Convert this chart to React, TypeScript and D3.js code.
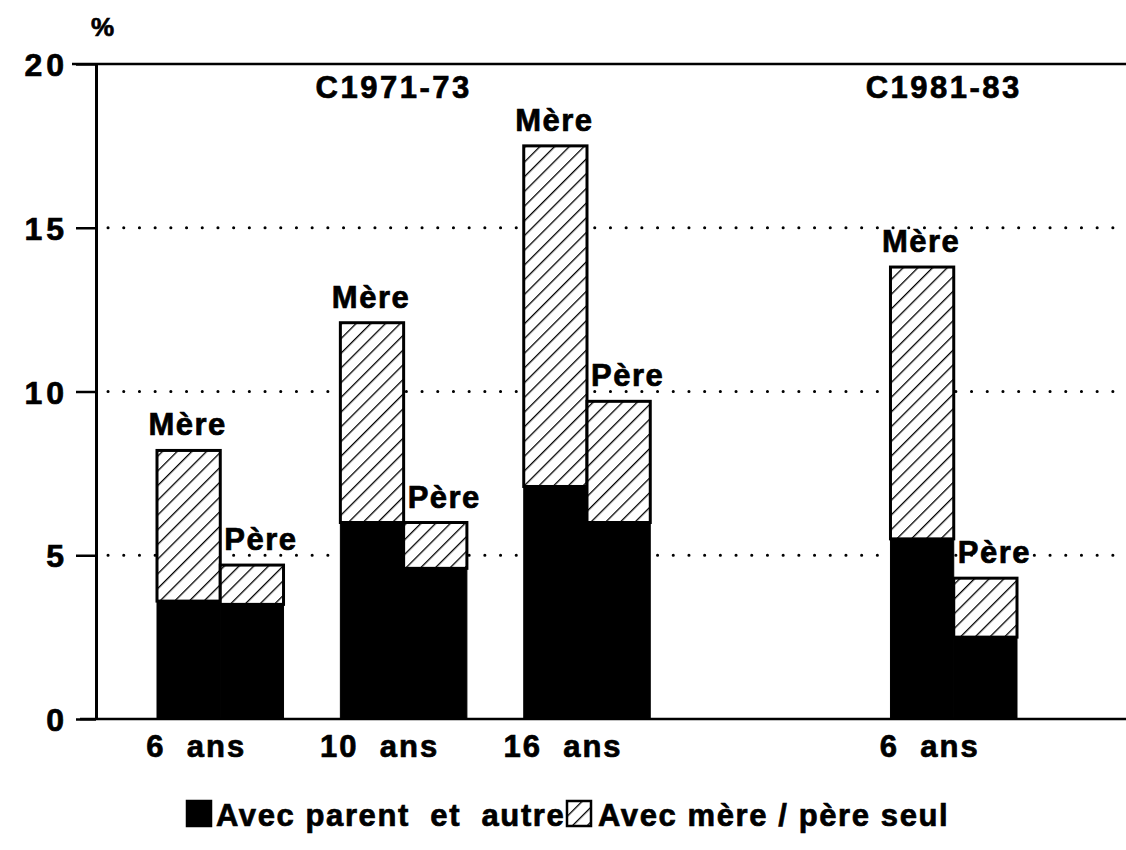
import React, { useEffect, useRef } from 'react';
import * as d3 from 'd3';

// values (%)
const groupKeys = ['g1', 'g2', 'g3', 'gap', 'g4'];
const groupLabels = ['6  ans', '10  ans', '16  ans', '', '6  ans'];
const cohorts = ['C1971-73', 'C1981-83'];
const cohortGroup = ['g2', 'g4'];
const parents = ['Mère', 'Père'];
const avecAutreMere = [3.6, 6.0, 7.1, 0, 5.5];
const seulMere = [4.6, 6.1, 10.4, 0, 8.3];
const avecAutrePere = [3.5, 4.6, 6.0, 0, 2.5];
const seulPere = [1.2, 1.4, 3.7, 0, 1.8];
const yTicks = [0, 5, 10, 15, 20];
const gridTicks = [5, 10, 15];
const legendLabels = ['Avec parent  et  autre', 'Avec mère / père seul'];

const FONT = "'Liberation Sans', Arial, Helvetica, sans-serif";

export default function App() {
  const svgRef = useRef<SVGSVGElement>(null);

  useEffect(() => {
    if (!svgRef.current) return;
    const width = 1126;
    const axisX = 96;

    const svg = d3.select(svgRef.current);
    svg.selectAll('*').remove();

    const defs = svg.append('defs');
    const pat = defs.append('pattern')
      .attr('id', 'hatch')
      .attr('patternUnits', 'userSpaceOnUse')
      .attr('width', 10.4)
      .attr('height', 10.4)
      .attr('patternTransform', 'rotate(45)');
    pat.append('rect').attr('width', 10.4).attr('height', 10.4).attr('fill', '#fff');
    pat.append('line')
      .attr('x1', 0).attr('y1', -1).attr('x2', 0).attr('y2', 11.4)
      .attr('stroke', '#000').attr('stroke-width', 2.6);

    const y = d3.scaleLinear().domain([0, 20]).range([719, 64]);

    const x = d3.scaleBand()
      .domain(groupKeys)
      .range([157, 1017])
      .paddingInner(0.31)
      .paddingOuter(0);

    const xs = d3.scaleBand().domain(parents).range([0, x.bandwidth()]);

    // heavier text like the printed original
    const bold = (sel: any, size: number, ls: number) => sel
      .style('font-family', FONT)
      .style('font-size', `${size}px`)
      .style('font-weight', 'bold')
      .style('letter-spacing', `${ls}px`)
      .attr('fill', '#000')
      .attr('stroke', '#000')
      .attr('stroke-width', 0.7);

    // dotted grid
    svg.append('g')
      .selectAll('line')
      .data(gridTicks)
      .enter()
      .append('line')
      .attr('x1', axisX + 12)
      .attr('x2', width)
      .attr('y1', d => y(d))
      .attr('y2', d => y(d))
      .attr('stroke', '#000')
      .attr('stroke-width', 3)
      .attr('stroke-linecap', 'round')
      .attr('stroke-dasharray', '0.1 15.6');

    // frame lines at 0 and 20
    svg.append('line')
      .attr('x1', 72).attr('x2', width)
      .attr('y1', y(20)).attr('y2', y(20))
      .attr('stroke', '#000').attr('stroke-width', 2.5);
    svg.append('line')
      .attr('x1', 80).attr('x2', width)
      .attr('y1', y(0)).attr('y2', y(0))
      .attr('stroke', '#000').attr('stroke-width', 2.5);

    // y axis
    const yAxis = svg.append('g')
      .attr('transform', `translate(${axisX},0)`)
      .call(d3.axisLeft(y).tickValues(yTicks).tickSize(20).tickSizeOuter(0).tickPadding(8));
    yAxis.select('.domain').attr('stroke', '#000').attr('stroke-width', 3);
    yAxis.selectAll('.tick line').attr('stroke', '#000').attr('stroke-width', 2.5);
    bold(yAxis.selectAll('text'), 32, 4).attr('dy', '0.36em');

    bold(svg.append('text').attr('x', 91).attr('y', 36).text('%'), 26, 0);

    // bars
    const bars = groupKeys.map((k, i) => ({
      key: k,
      items: [
        { parent: 'Mère', autre: avecAutreMere[i], seul: seulMere[i] },
        { parent: 'Père', autre: avecAutrePere[i], seul: seulPere[i] },
      ],
    })).filter(d => d.key !== 'gap');

    const g = svg.append('g')
      .selectAll('g')
      .data(bars)
      .enter()
      .append('g')
      .attr('transform', d => `translate(${x(d.key)},0)`);

    const bar = g.selectAll('g')
      .data(d => d.items)
      .enter()
      .append('g');

    bar.append('rect')
      .attr('x', d => xs(d.parent)!)
      .attr('width', xs.bandwidth())
      .attr('y', d => y(d.autre + d.seul))
      .attr('height', d => y(d.autre) - y(d.autre + d.seul))
      .attr('fill', 'url(#hatch)')
      .attr('stroke', '#000')
      .attr('stroke-width', 3);

    bar.append('rect')
      .attr('x', d => xs(d.parent)!)
      .attr('width', xs.bandwidth())
      .attr('y', d => y(d.autre))
      .attr('height', d => y(0) - y(d.autre))
      .attr('fill', '#000')
      .attr('stroke', '#000')
      .attr('stroke-width', 1);

    bold(bar.append('text')
      .attr('x', d => xs(d.parent)! + xs.bandwidth() / 2 + (d.parent === 'Père' ? 9 : -1))
      .attr('y', d => y(d.autre + d.seul) - 15)
      .attr('text-anchor', 'middle')
      .text(d => d.parent), 31, 1.5);

    // category labels
    bold(svg.append('g')
      .selectAll('text')
      .data(groupKeys.filter(k => k !== 'gap'))
      .enter()
      .append('text')
      .attr('x', k => x(k)! + x.bandwidth() / 2 - 24)
      .attr('y', 757)
      .attr('text-anchor', 'middle')
      .attr('xml:space', 'preserve')
      .style('white-space', 'pre')
      .text(k => groupLabels[groupKeys.indexOf(k)]), 31, 2);

    // cohort labels
    bold(svg.append('g')
      .selectAll('text')
      .data(cohorts)
      .enter()
      .append('text')
      .attr('x', (d, i) => x(cohortGroup[i])! + x.bandwidth() / 2 - 10)
      .attr('y', 98)
      .attr('text-anchor', 'middle')
      .text(d => d), 31, 2.5);

    // legend
    const legend = svg.append('g');
    const swatchX = [187, 567];
    const textX = [216, 598];
    legendLabels.forEach((label, i) => {
      legend.append('rect')
        .attr('x', swatchX[i]).attr('y', 801)
        .attr('width', 24).attr('height', 25)
        .attr('fill', i === 0 ? '#000' : 'url(#hatch)')
        .attr('stroke', '#000')
        .attr('stroke-width', 2.5);
      bold(legend.append('text')
        .attr('x', textX[i]).attr('y', 826)
        .attr('xml:space', 'preserve')
        .style('white-space', 'pre')
        .text(label), 31, 1.6);
    });
  }, []);

  return (
    <svg
      ref={svgRef}
      width={1126}
      height={850}
      viewBox="0 0 1126 850"
      style={{ position: 'absolute', left: 0, top: 0, background: '#fff' }}
    />
  );
}
